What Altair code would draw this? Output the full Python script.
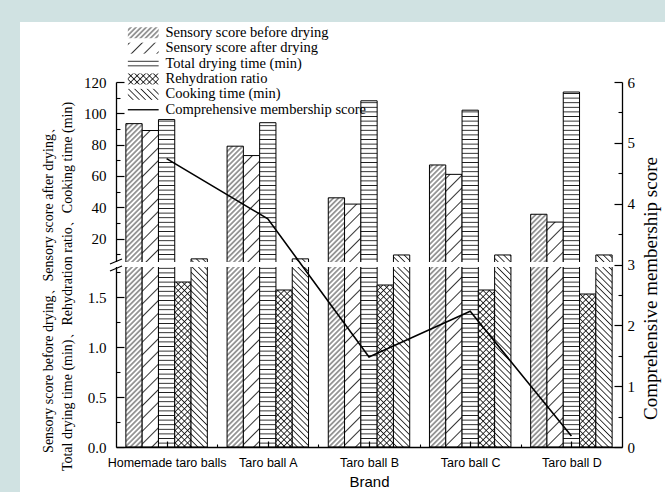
import altair as alt
import pandas as pd
import jinja2

# ---------------- data ----------------
brands = ["Homemade taro balls", "Taro ball A", "Taro ball B", "Taro ball C", "Taro ball D"]
series_names = [
    "Sensory score before drying",
    "Sensory score after drying",
    "Total drying time (min)",
    "Rehydration ratio",
    "Cooking time (min)",
]
line_name = "Comprehensive membership score"

sensory_before = [93.4, 79.0, 46.0, 67.0, 35.5]
sensory_after = [89.0, 73.0, 42.0, 61.0, 30.5]
drying_time = [96.0, 94.0, 108.0, 102.0, 113.6]
rehydration = [1.65, 1.57, 1.62, 1.57, 1.53]
cooking_time = [7.0, 7.0, 9.5, 9.5, 9.5]
membership = [4.74, 3.75, 1.48, 2.23, 0.18]

left_major = [0, 0.5, 1.0, 1.5, 20, 40, 60, 80, 100, 120]
left_minor = [0.25, 0.75, 1.25, 1.75, 10, 30, 50, 70, 90, 110]
right_major = [0, 1, 2, 3, 4, 5, 6]
right_minor = [0.5, 1.5, 2.5, 3.5, 4.5, 5.5]
x_major = [1, 2, 3, 4, 5]
x_minor = [1.5, 2.5, 3.5, 4.5]

left_title = [
    "Sensory score before drying、Sensory score after drying、",
    "Total drying time (min)、Rehydration ratio、Cooking time (min)",
]

series_values = [sensory_before, sensory_after, drying_time, rehydration, cooking_time]
rows = []
for i, b in enumerate(brands):
    for k, (nm, vals) in enumerate(zip(series_names, series_values)):
        rows.append({"brand": b, "pos": i + 1, "k": k, "series": nm, "value": vals[i]})
bars_df = pd.DataFrame(rows)
line_df = pd.DataFrame({"brand": brands, "pos": list(range(1, len(brands) + 1)), "score": membership})
one_df = pd.DataFrame({"a": [0]})

# ---------------- styles ----------------
W, H = 506, 365
SERIF = "Liberation Serif"
SANS = "Liberation Sans"
fills = ["url(#hBefore)", "url(#hAfter)", "url(#hDry)", "url(#hCross)", "url(#hBack)"]
rect_path = "M-2.8,-1H2.8V1H-2.8Z"
line_path = "M-2.8,-0.12H2.8V0.12H-2.8Z"

xs = alt.Scale(domain=[0.5, 5.5], nice=False, zero=False)
ys = alt.Scale(domain=[0, 1.8, 5, 120], range=[H, 185, 180, 0], nice=False, zero=False)
rs = alt.Scale(domain=[0, 6], nice=False, zero=False)

label_expr = "[" + ",".join("'" + b + "'" for b in brands) + "][datum.value - 1]"

x_axis = alt.Axis(
    values=x_major, labelExpr=label_expr, title="Brand", grid=False,
    tickSize={"expr": "-6"}, tickColor="black", tickWidth=1.2,
    domainColor="black", domainWidth=1.3, labelPadding=15, labelOverlap=False,
    labelFont=SANS, labelFontSize=12.5, labelColor="black",
    titleFont=SANS, titleFontSize=15, titleFontWeight="normal", titleColor="black",
    titlePadding=6, zindex=1,
)
left_axis = alt.Axis(
    values=left_major,
    labelExpr="datum.value < 2 ? format(datum.value, '.1f') : format(datum.value, 'd')",
    title=left_title, grid=False, orient="left",
    tickSize={"expr": "-8"}, tickColor="black", tickWidth=1.2,
    domainColor="black", domainWidth=1.3, labelPadding=18, labelOverlap=False,
    labelFont=SERIF, labelFontSize=15, labelColor="black",
    titleFont=SERIF, titleFontSize=14, titleFontWeight="normal", titleColor="black",
    titleLineHeight=19, titleAngle=270, titleAlign="center", titleBaseline="middle",
    titleX=-68, titleY=204, zindex=0,
)
right_axis = alt.Axis(
    values=right_major, format="d", title=line_name, grid=False, orient="right",
    tickSize={"expr": "-8"}, tickColor="black", tickWidth=1.2,
    domainColor="black", domainWidth=1.3, labelPadding=13, labelOverlap=False,
    labelFont=SERIF, labelFontSize=15, labelColor="black",
    titleFont=SERIF, titleFontSize=19, titleFontWeight="normal", titleColor="black",
    titleAngle=270, titleAlign="center", titleBaseline="middle",
    titleX=28, titleY=206, zindex=1,
)


def minor_axis(vals, orient, size):
    return alt.Axis(values=vals, orient=orient, labels=False, domain=False, grid=False,
                    title=None, tickSize={"expr": str(-size)}, tickColor="black",
                    tickWidth=1.1, zindex=1 if orient != "left" else 0)


# teal frame bands (decoration)
band_top = alt.Chart(one_df).mark_rect(fill="#d0e2e2").encode(
    x=alt.value(-120), x2=alt.value(560), y=alt.value(-90), y2=alt.value(-60))
band_left = alt.Chart(one_df).mark_rect(fill="#d0e2e2").encode(
    x=alt.value(-120), x2=alt.value(-96), y=alt.value(-90), y2=alt.value(420))

bars = alt.Chart(bars_df).transform_calculate(
    xa="datum.pos - 0.4025 + datum.k * 0.161",
    xb="datum.pos - 0.4025 + (datum.k + 1) * 0.161",
).mark_rect(stroke="black", strokeWidth=1).encode(
    x=alt.X("xa:Q", scale=xs, axis=x_axis),
    x2="xb:Q",
    y=alt.Y("value:Q", scale=ys, axis=left_axis),
    y2=alt.datum(0),
    fill=alt.Fill("series:N", scale=alt.Scale(domain=series_names, range=fills), legend=None),
)

# axis break gap and break marks (decoration)
gap = alt.Chart(one_df).mark_rect(fill="white").encode(
    x=alt.value(-3), x2=alt.value(501), y=alt.value(180), y2=alt.value(185))
brk1 = alt.Chart(one_df).mark_rule(color="black", strokeWidth=1.2).encode(
    x=alt.value(-6), y=alt.value(182), x2=alt.value(6), y2=alt.value(177))
brk2 = alt.Chart(one_df).mark_rule(color="black", strokeWidth=1.2).encode(
    x=alt.value(-6), y=alt.value(189), x2=alt.value(6), y2=alt.value(184))

line = alt.Chart(line_df).mark_line(color="black", strokeWidth=1.6).encode(
    x=alt.X("pos:Q", scale=xs, axis=None),
    y=alt.Y("score:Q", scale=rs, axis=right_axis),
)

minor_left = alt.Chart(one_df).mark_point(opacity=0).encode(
    y=alt.Y("a:Q", scale=ys, axis=minor_axis(left_minor, "left", 4)))
minor_right = alt.Chart(one_df).mark_point(opacity=0).encode(
    y=alt.Y("a:Q", scale=rs, axis=minor_axis(right_minor, "right", 4)))
minor_x = alt.Chart(one_df).mark_point(opacity=0).encode(
    x=alt.X("a:Q", scale=xs, axis=minor_axis(x_minor, "bottom", 3)))

leg = dict(
    orient="none", legendX=20, legendY=-56.5, title=None, padding=0, offset=0,
    labelFont=SERIF, labelFontSize=14.5, labelColor="black", labelLimit=400,
    labelOffset=15, rowPadding=-0.6, symbolSize=121, symbolStrokeColor="black",
    symbolStrokeWidth=1, symbolOpacity=1, zindex=0,
)
legend_layer = alt.Chart(bars_df).transform_filter("false").mark_point(
    filled=True, stroke="black", strokeWidth=1, opacity=1
).encode(
    fill=alt.Fill("series:N", scale=alt.Scale(domain=series_names + [line_name], range=fills + ["black"]),
                  legend=alt.Legend(**leg)),
    shape=alt.Shape("series:N", scale=alt.Scale(domain=series_names + [line_name],
                                                range=[rect_path] * 5 + [line_path]),
                    legend=alt.Legend(**leg)),
)

chart = alt.layer(
    band_top, band_left, bars, gap, brk1, brk2, line,
    minor_left, minor_right, minor_x, legend_layer,
).resolve_scale(
    x="independent", y="independent", fill="independent", shape="independent"
).properties(
    width=W, height=H,
    autosize=alt.AutoSizeParams(type="none"),
    padding={"left": 116, "top": 82, "right": 43, "bottom": 45},
    background="white",
).configure_view(stroke=None)

# SVG hatch patterns referenced by the bar fills
PATTERNS = """
<svg width="0" height="0" style="position:absolute;left:0;top:0" aria-hidden="true">
 <defs>
  <pattern id="hBefore" patternUnits="userSpaceOnUse" width="3.6" height="3.6" patternTransform="rotate(-45)">
   <rect width="3.6" height="3.6" fill="#fff"/>
   <line x1="0" y1="1.8" x2="3.6" y2="1.8" stroke="#000" stroke-width="0.75"/>
  </pattern>
  <pattern id="hAfter" patternUnits="userSpaceOnUse" width="9" height="9" patternTransform="rotate(-45)">
   <rect width="9" height="9" fill="#fff"/>
   <line x1="0" y1="4.5" x2="9" y2="4.5" stroke="#000" stroke-width="0.8"/>
  </pattern>
  <pattern id="hDry" patternUnits="userSpaceOnUse" width="4.6" height="4.6">
   <rect width="4.6" height="4.6" fill="#fff"/>
   <line x1="0" y1="2.3" x2="4.6" y2="2.3" stroke="#000" stroke-width="0.8"/>
  </pattern>
  <pattern id="hCross" patternUnits="userSpaceOnUse" width="4.4" height="4.4" patternTransform="rotate(45)">
   <rect width="4.4" height="4.4" fill="#fff"/>
   <line x1="0" y1="2.2" x2="4.4" y2="2.2" stroke="#000" stroke-width="0.75"/>
   <line x1="2.2" y1="0" x2="2.2" y2="4.4" stroke="#000" stroke-width="0.75"/>
  </pattern>
  <pattern id="hBack" patternUnits="userSpaceOnUse" width="4.4" height="4.4" patternTransform="rotate(45)">
   <rect width="4.4" height="4.4" fill="#fff"/>
   <line x1="0" y1="2.2" x2="4.4" y2="2.2" stroke="#000" stroke-width="0.75"/>
  </pattern>
 </defs>
</svg>
"""

PAGE = jinja2.Template("""<!DOCTYPE html>
<html>
<head>
<meta charset="utf-8">
<style>
  body { margin: 0; background: #ffffff; }
  #{{ output_div }}.vega-embed { width: 100%; display: flex; }
</style>
<script type="text/javascript" src="{{ base_url }}/vega@{{ vega_version }}"></script>
<script type="text/javascript" src="{{ base_url }}/vega-lite@{{ vegalite_version }}"></script>
<script type="text/javascript" src="{{ base_url }}/vega-embed@{{ vegaembed_version }}"></script>
</head>
<body>
""" + PATTERNS + """
<div id="{{ output_div }}"></div>
<script>
  var spec = {{ spec }};
  var embedOpt = {{ embed_options }};
  vegaEmbed("#{{ output_div }}", spec, embedOpt).catch(function (e) {
    document.getElementById("{{ output_div }}").innerText = String(e);
  });
</script>
</body>
</html>
""")

chart.save("out.html", embed_options={"renderer": "svg", "actions": False}, template=PAGE)
